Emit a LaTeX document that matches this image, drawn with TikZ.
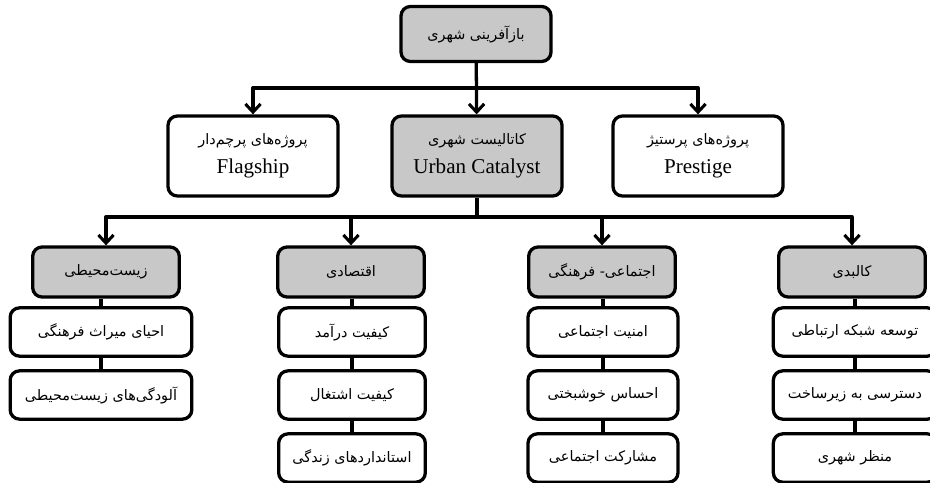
\documentclass[tikz,border=0pt]{standalone}
\usepackage{fontspec}
\setmainfont{Liberation Serif}
\newfontfamily\farsifont[Script=Arabic]{DejaVu Sans}
\TeXXeTstate=1
\usetikzlibrary{arrows.meta}
\definecolor{boxgray}{RGB}{200,200,200}
\newcommand\fatext[1]{{\farsifont\beginR #1\endR}}
\newcommand\entext[1]{{\fontsize{18}{20}\selectfont #1}}
\tikzset{
  box/.style={draw, line width=2.8pt, rounded corners=8pt, align=center, inner sep=2pt,
    fill=white, font=\fontsize{12.3}{22}\selectfont},
  graybox/.style={box, fill=boxgray},
  arr/.style={line width=2.8pt, -{Straight Barb[length=7pt,width=13pt,line width=2.6pt]}},
  link/.style={line width=2.8pt},
}
\begin{document}
\begin{tikzpicture}[x=0.03cm, y=-0.03cm, line join=round]
%Khung hình
\clip (0,0) rectangle (930,483);
\fill[white] (0,0) rectangle (930,483);
%Các hàng
\def\rowcat{272}
\def\rowa{332}  \def\rowb{395}  \def\rowc{458}
%Gốc và hàng giữa
\node[graybox, minimum width=4.5cm, minimum height=1.65cm] (root) at (476,34) {\fatext{بازآفرینی شهری}};
\node[box, minimum width=5.1cm, minimum height=2.4cm] (flag) at (253,156) {\fatext{پروژه‌های پرچم‌دار}\\[3pt]\entext{Flagship}};
\node[graybox, minimum width=5.1cm, minimum height=2.4cm] (cat) at (477,156) {\fatext{کاتالیست شهری}\\[3pt]\entext{Urban Catalyst}};
\node[box, minimum width=5.1cm, minimum height=2.4cm] (pres) at (698,156) {\fatext{پروژه‌های پرستیژ}\\[3pt]\entext{Prestige}};
\coordinate (bus1) at (476,88);
\draw[arr] (root) -- (cat);
\draw[arr] (bus1) -| (flag.north);
\draw[arr] (bus1) -| (pres.north);
%Bốn nhóm
\node[graybox, minimum width=4.4cm, minimum height=1.5cm] (env) at (106,\rowcat) {\fatext{زیست‌محیطی}};
\node[graybox, minimum width=4.4cm, minimum height=1.5cm] (eco) at (351,\rowcat) {\fatext{اقتصادی}};
\node[graybox, minimum width=4.4cm, minimum height=1.5cm] (soc) at (602,\rowcat) {\fatext{اجتماعی- فرهنگی}};
\node[graybox, minimum width=4.4cm, minimum height=1.5cm] (phy) at (852,\rowcat) {\fatext{کالبدی}};
\coordinate (bus2) at (477,217);
\draw[link] (cat) -- (bus2);
\foreach \g in {env,eco,soc,phy}
  \draw[arr] (bus2) -| (\g.north);
%Các ô con
\node[box, minimum width=5.45cm, minimum height=1.45cm] (env1) at (101,\rowa) {\fatext{احیای میراث فرهنگی}};
\node[box, minimum width=5.45cm, minimum height=1.45cm] (env2) at (101,\rowb) {\fatext{آلودگی‌های زیست‌محیطی}};
\node[box, minimum width=4.4cm, minimum height=1.45cm] (eco1) at (352,\rowa) {\fatext{کیفیت درآمد}};
\node[box, minimum width=4.4cm, minimum height=1.45cm] (eco2) at (352,\rowb) {\fatext{کیفیت اشتغال}};
\node[box, minimum width=4.4cm, minimum height=1.45cm] (eco3) at (352,\rowc) {\fatext{استانداردهای زندگی}};
\node[box, minimum width=4.5cm, minimum height=1.45cm] (soc1) at (603,\rowa) {\fatext{امنیت اجتماعی}};
\node[box, minimum width=4.5cm, minimum height=1.45cm] (soc2) at (603,\rowb) {\fatext{احساس خوشبختی}};
\node[box, minimum width=4.5cm, minimum height=1.45cm] (soc3) at (603,\rowc) {\fatext{مشارکت اجتماعی}};
\node[box, minimum width=4.9cm, minimum height=1.45cm] (phy1) at (855,\rowa) {\fatext{توسعه شبکه ارتباطی}};
\node[box, minimum width=4.9cm, minimum height=1.45cm] (phy2) at (855,\rowb) {\fatext{دسترسی به زیرساخت}};
\node[box, minimum width=4.9cm, minimum height=1.45cm] (phy3) at (855,\rowc) {\fatext{منظر شهری}};
\draw[link] (env1.north) -- (env1.north |- env.south);
\draw[link] (env2.north) -- (env2.north |- env1.south);
\draw[link] (eco1.north) -- (eco1.north |- eco.south);
\draw[link] (eco2.north) -- (eco2.north |- eco1.south);
\draw[link] (eco3.north) -- (eco3.north |- eco2.south);
\draw[link] (soc1.north) -- (soc1.north |- soc.south);
\draw[link] (soc2.north) -- (soc2.north |- soc1.south);
\draw[link] (soc3.north) -- (soc3.north |- soc2.south);
\draw[link] (phy1.north) -- (phy1.north |- phy.south);
\draw[link] (phy2.north) -- (phy2.north |- phy1.south);
\draw[link] (phy3.north) -- (phy3.north |- phy2.south);
\end{tikzpicture}
\end{document}
